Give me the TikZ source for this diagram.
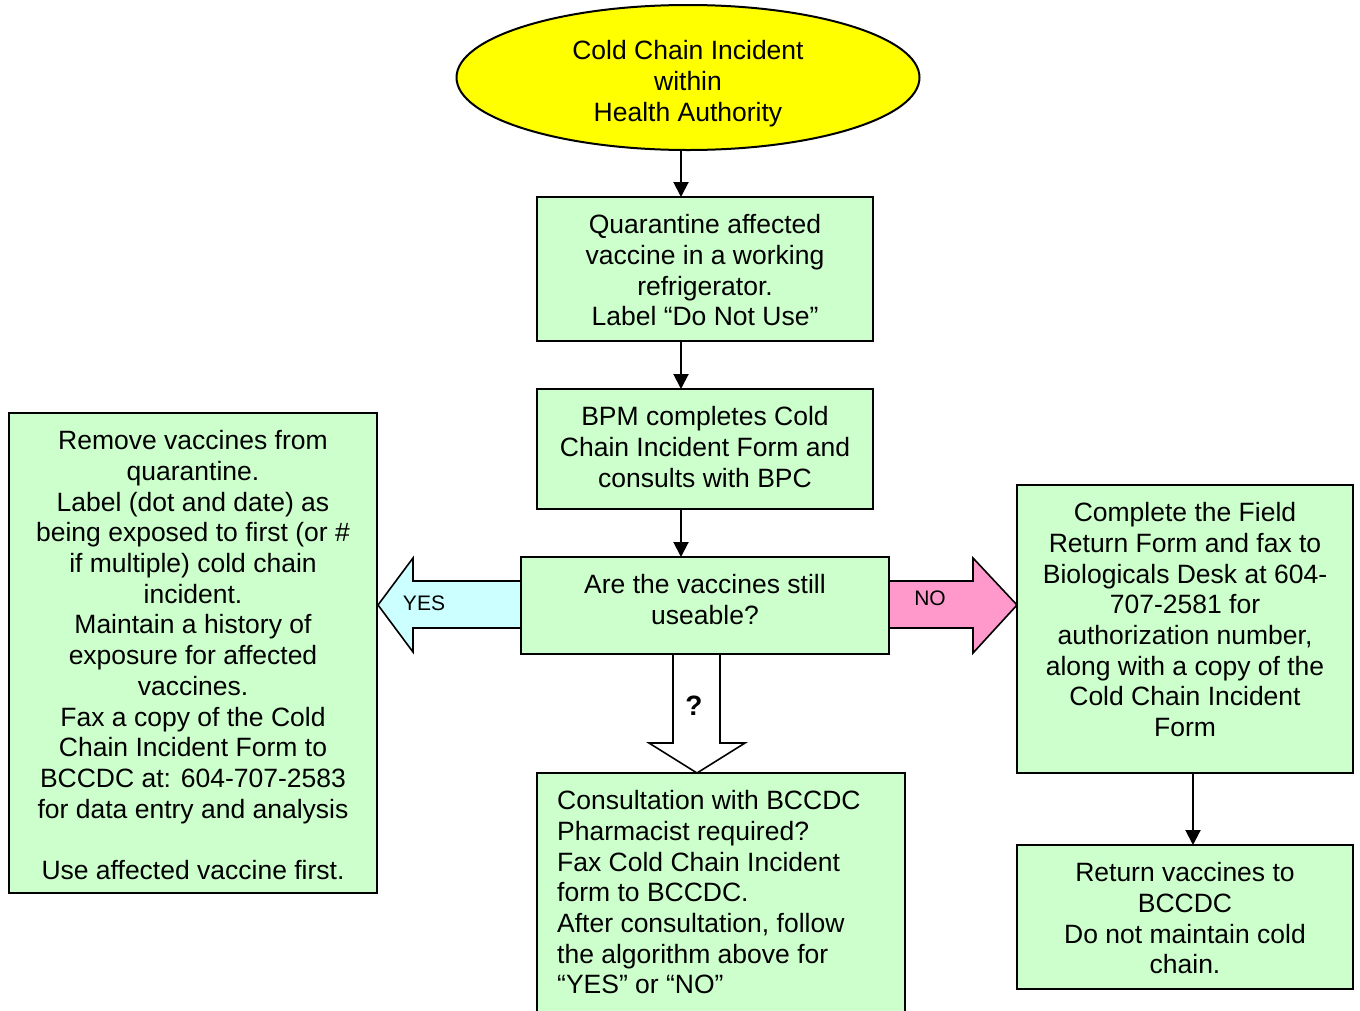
\documentclass[tikz,border=0pt]{standalone}
\usepackage{fontspec}
\setmainfont{Liberation Sans}
\usetikzlibrary{arrows.meta,calc,shapes.geometric}
\definecolor{boxgreen}{HTML}{CCFFCC}
\definecolor{ellyellow}{HTML}{FFFF00}
\definecolor{yescyan}{HTML}{CCFFFF}
\definecolor{nopink}{HTML}{FF99CC}
\begin{document}
\begin{tikzpicture}[x=1pt,y=-1pt,
  box/.style={draw=black,line width=2pt,fill=boxgreen,inner sep=0,outer sep=0,minimum width=#1},
  txt/.style={anchor=north,inner sep=0,align=center,font=\fontsize{26.5}{30.7}\selectfont},
  ltxt/.style={anchor=north west,inner sep=0,align=left,font=\fontsize{26.5}{30.7}\selectfont},
  conn/.style={draw=black,line width=2pt,-{Triangle[width=15pt,length=15pt]}},
  blockarrow/.style={draw=black,line width=1.6pt,line join=miter},
  lbl/.style={inner sep=0,font=\fontsize{21}{24}\selectfont}]
\useasboundingbox (0,0) rectangle (1360,1010);
\clip (0,0) rectangle (1360,1010);
\fill[white] (0,0) rectangle (1360,1010);

% ellipse
\node[ellipse,draw=black,line width=2pt,fill=ellyellow,minimum width=463pt,minimum height=145pt,inner sep=0,outer sep=0] (ell) at (688,77.5) {};
\node[txt] (ellt) at (688,38) {\strut Cold Chain Incident\\within\\Health Authority};

% block arrows
\draw[blockarrow,fill=yescyan] (521,581) -- (413,581) -- (413,558) -- (378,605) -- (413,652) -- (413,628) -- (521,628);
\draw[blockarrow,fill=nopink] (889,581) -- (973,581) -- (973,558) -- (1017,605) -- (973,653) -- (973,628) -- (889,628);
\draw[blockarrow,fill=white] (673,654) -- (673,743) -- (649,743) -- (697,773) -- (745,743) -- (720,743) -- (720,654);
\node[lbl] (yes) at (424,603) {YES};
\node[lbl] (no) at (930,598) {NO};
\node[inner sep=0,font=\fontsize{28}{30}\selectfont\bfseries] (q) at (694,706) {?};

% boxes
\node[box=336pt,minimum height=144pt,anchor=north west] (b1) at (537,197) {};
\node[box=336pt,minimum height=120pt,anchor=north west] (b2) at (537,389) {};
\node[box=368pt,minimum height=97pt,anchor=north west] (b3) at (521,557) {};
\node[box=368pt,minimum height=480pt,anchor=north west] (lb) at (9,413) {};
\node[box=336pt,minimum height=288pt,anchor=north west] (rb1) at (1017,485) {};
\node[box=336pt,minimum height=144pt,anchor=north west] (rb2) at (1017,845) {};
\node[box=368pt,minimum height=260pt,anchor=north west] (bb) at (537,773) {};

% texts
\node[txt] (b1t) at (705,212) {\strut Quarantine affected\\vaccine in a working\\refrigerator.\\Label “Do Not Use”};
\node[txt] (b2t) at (705,404) {\strut BPM completes Cold\\Chain Incident Form and\\consults with BPC};
\node[txt] (b3t) at (705,572) {\strut Are the vaccines still\\useable?};
\node[txt] (lbt) at (193,428) {\strut Remove vaccines from\\quarantine.\\Label (dot and date) as\\being exposed to first (or \#\\if multiple) cold chain\\incident.\\Maintain a history of\\exposure for affected\\vaccines.\\Fax a copy of the Cold\\Chain Incident Form to\\BCCDC at: 604-707-2583\\for data entry and analysis\\\strut\\Use affected vaccine first.};
\node[txt] (rb1t) at (1185,500) {\strut Complete the Field\\Return Form and fax to\\Biologicals Desk at 604-\\707-2581 for\\authorization number,\\along with a copy of the\\Cold Chain Incident\\Form};
\node[txt] (rb2t) at (1185,860) {\strut Return vaccines to\\BCCDC\\Do not maintain cold\\chain.};
\node[ltxt] (bbt) at (557,788) {\strut Consultation with BCCDC\\Pharmacist required?\\Fax Cold Chain Incident\\form to BCCDC.\\After consultation, follow\\the algorithm above for\\“YES” or “NO”};

% connectors
\coordinate (cx) at (681,0);
\coordinate (rx) at (1193,0);
\draw[conn] (ell.south -| cx) -- (b1.north -| cx);
\draw[conn] (b1.south -| cx) -- (b2.north -| cx);
\draw[conn] (b2.south -| cx) -- (b3.north -| cx);
\draw[conn] (rb1.south -| rx) -- (rb2.north -| rx);
\end{tikzpicture}
\end{document}
